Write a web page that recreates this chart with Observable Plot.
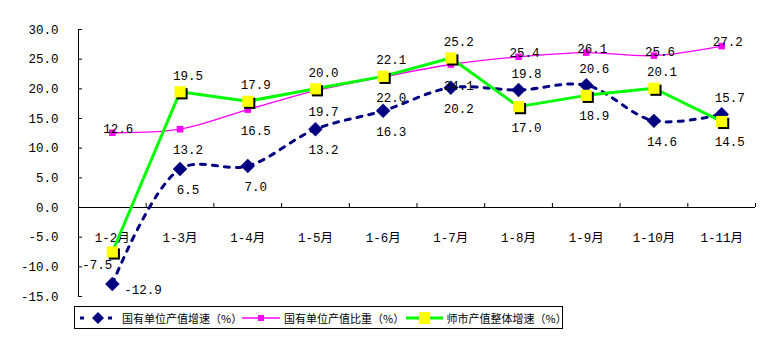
<!DOCTYPE html>
<html><head><meta charset="utf-8">
<script src="https://cdn.jsdelivr.net/npm/d3@7"></script>
<script src="https://cdn.jsdelivr.net/npm/@observablehq/plot@0.6"></script>
<style>
body{margin:0;background:#fff;}
#chart{position:absolute;left:0;top:0;}
#legend{position:absolute;left:74px;top:306px;width:487px;height:21px;border:1px solid #000;background:#fff;font-family:"Noto Sans CJK SC",sans-serif;font-size:11px;color:#000;}
.item{position:absolute;top:0;height:21px;display:flex;align-items:center;}
.item svg{display:block;margin-right:4px;}
</style></head><body>
<div id="chart"></div>
<div id="legend"></div>
<script>
const months = ["1-2月","1-3月","1-4月","1-5月","1-6月","1-7月","1-8月","1-9月","1-10月","1-11月"];
const stateGrowth = [-12.9, 6.5, 7.0, 13.2, 16.3, 20.2, 19.8, 20.6, 14.6, 15.7];
const stateShare  = [12.6, 13.2, 16.5, 19.7, 22.0, 24.1, 25.4, 26.1, 25.6, 27.2];
const cityGrowth  = [-7.5, 19.5, 17.9, 20.0, 22.1, 25.2, 17.0, 18.9, 20.1, 14.5];
const yTicks = [-15, -10, -5, 0, 5, 10, 15, 20, 25, 30];
const seriesNames = ["国有单位产值增速（%）", "国有单位产值比重（%）", "师市产值整体增速（%）"];

const rows = months.map((m, i) => ({i, month: m, navy: stateGrowth[i], mag: stateShare[i], yel: cityGrowth[i]}));
const bounds = d3.range(-0.5, months.length + 0.5, 1);
const fmt = v => v.toFixed(1);
const numFont = "'Liberation Mono','Noto Sans CJK SC',monospace";

const NAVY = "#000080", MAG = "#ff00ff", GREEN = "#00ff00", YEL = "#ffff00";

const chart = Plot.plot({
  width: 774, height: 304,
  marginLeft: 78, marginRight: 19, marginTop: 29, marginBottom: 8,
  x: {type: "linear", domain: [-0.5, months.length - 0.5], axis: null},
  y: {domain: [-15, 30], axis: null},
  style: {fontFamily: numFont, fontSize: "12.5px", background: "#fff", overflow: "visible"},
  marks: [
    // axes
    Plot.ruleX([-0.5], {y1: -15, y2: 30, stroke: "#000", strokeWidth: 1}),
    Plot.ruleY(yTicks, {y: d => d, x1: -0.5, x2: -0.5, insetRight: -4, stroke: "#000"}),
    Plot.text(yTicks, {x: -0.5, y: d => d, text: fmt, textAnchor: "end", dx: -20, fill: "#000"}),
    Plot.ruleY([0], {x1: -0.5, x2: months.length - 0.5, stroke: "#000"}),
    Plot.ruleX(bounds, {x: d => d, y1: 0, y2: 0, insetTop: -4, stroke: "#000"}),
    Plot.text(rows, {x: "i", y: 0, text: "month", dy: 30, fill: "#000"}),
    // navy dashed series
    Plot.line(rows, {x: "i", y: "navy", stroke: NAVY, strokeWidth: 3, strokeDasharray: "5,7", curve: "catmull-rom"}),
    Plot.dot(rows, {x: "i", y: "navy", symbol: "diamond2", r: 6.3, fill: NAVY, stroke: NAVY, strokeWidth: 0.5}),
    // magenta series
    Plot.line(rows, {x: "i", y: "mag", stroke: MAG, strokeWidth: 1.3, curve: "catmull-rom"}),
    Plot.dot(rows, {x: "i", y: "mag", symbol: "square", r: 3.7, fill: MAG, stroke: "none"}),
    // green series
    Plot.line(rows, {x: "i", y: "yel", stroke: GREEN, strokeWidth: 3}),
    Plot.dot(rows, {x: "i", y: "yel", symbol: "square", r: 6.3, fill: "#000", stroke: "none", dx: 2, dy: 2}),
    Plot.dot(rows, {x: "i", y: "yel", symbol: "square", r: 6.3, fill: YEL, stroke: "none"}),
    // value labels
    Plot.text(rows.filter(d => d.navy < 0), {x: "i", y: "navy", text: d => fmt(d.navy), textAnchor: "start", dx: 12, dy: 6, fill: "#000"}),
    Plot.text(rows.filter(d => d.navy >= 0 && d.navy > d.yel), {x: "i", y: "navy", text: d => fmt(d.navy), dx: 8, dy: -16, fill: "#000"}),
    Plot.text(rows.filter(d => d.navy >= 0 && d.navy <= d.yel), {x: "i", y: "navy", text: d => fmt(d.navy), dx: 8, dy: 21, fill: "#000"}),
    Plot.text(rows.filter(d => d.yel < 0), {x: "i", y: "yel", text: d => fmt(d.yel), textAnchor: "end", dx: 0, dy: 13, fill: "#000"}),
    Plot.text(rows.filter(d => d.yel >= 0 && d.yel >= d.navy), {x: "i", y: "yel", text: d => fmt(d.yel), dx: 8, dy: -16, fill: "#000"}),
    Plot.text(rows.filter(d => d.yel >= 0 && d.yel < d.navy), {x: "i", y: "yel", text: d => fmt(d.yel), dx: 8, dy: 21, fill: "#000"}),
    Plot.text(rows.filter(d => d.mag < d.yel), {x: "i", y: "mag", text: d => fmt(d.mag), dx: 8, dy: 21, fill: "#000"}),
    Plot.text(rows.filter(d => d.mag >= d.yel), {x: "i", y: "mag", text: d => fmt(d.mag), dx: 6, dy: -4, fill: "#000"})
  ]
});
document.getElementById("chart").appendChild(chart);

// legend
const legend = d3.select("#legend");
const swatches = [
  {left: 5, draw: s => {
    s.append("line").attr("x1", 0).attr("x2", 36).attr("y1", 6).attr("y2", 6)
      .attr("stroke", NAVY).attr("stroke-width", 3).attr("stroke-dasharray", "4,10");
    s.append("path").attr("d", "M18,0L24,6L18,12L12,6Z").attr("fill", NAVY);
  }},
  {left: 167, draw: s => {
    s.append("line").attr("x1", 0).attr("x2", 38).attr("y1", 6).attr("y2", 6).attr("stroke", MAG).attr("stroke-width", 1.3);
    s.append("rect").attr("x", 16).attr("y", 3).attr("width", 6).attr("height", 6).attr("fill", MAG);
  }},
  {left: 331, draw: s => {
    s.append("line").attr("x1", 0).attr("x2", 37).attr("y1", 6).attr("y2", 6).attr("stroke", GREEN).attr("stroke-width", 3);
    s.append("rect").attr("x", 13).attr("y", 0).attr("width", 11).attr("height", 12).attr("fill", YEL);
  }}
];
seriesNames.forEach((name, k) => {
  const it = legend.append("div").attr("class", "item").style("left", swatches[k].left + "px");
  const s = it.append("svg").attr("width", 38).attr("height", 12);
  swatches[k].draw(s);
  it.append("span").text(name);
});
</script>
</body></html>
